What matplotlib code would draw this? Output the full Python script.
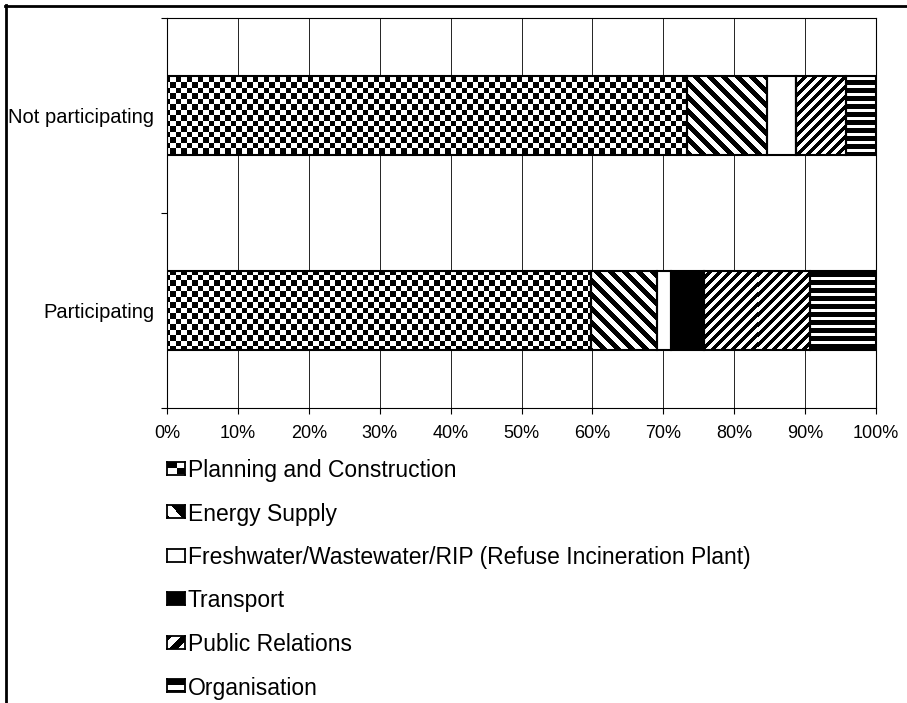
import numpy as np
import matplotlib
matplotlib.use('Agg')
import matplotlib.pyplot as plt
from matplotlib.lines import Line2D

plt.rcParams['font.family'] = ['Liberation Sans', 'DejaVu Sans']

# shares of each field of activity, in percent
categories = ['Participating', 'Not participating']
groups = ['Planning and Construction', 'Energy Supply',
          'Freshwater/Wastewater/RIP (Refuse Incineration Plant)',
          'Transport', 'Public Relations', 'Organisation']
planning = [59.8, 73.3]
energy = [9.3, 11.3]
freshwater = [2.0, 4.1]
transport = [4.6, 0.0]
public_relations = [15.0, 7.1]
organisation = [9.3, 4.2]
xticks = [0, 10, 20, 30, 40, 50, 60, 70, 80, 90, 100]
xtick_labels = [f'{t}%' for t in xticks]

W, H, DPI = 907, 703, 100


# fill patterns in screen pixels (y pointing down); 1 = white, 0 = black
def checker(x, y, s=1.0):
    return (np.floor(x / (5.5 * s)) + np.floor(y / (5.5 * s))) % 2

def back_diag(x, y, s=1.0):
    return ((x - y) % (14 * s) >= 7 * s).astype(float)

def fwd_diag(x, y, s=1.0):
    return ((x + y) % (10 * s) >= 5 * s).astype(float)

def blank(x, y, s=1.0):
    return np.ones_like(x + y)

def solid(x, y, s=1.0):
    return np.zeros_like(x + y)

def horiz(x, y, s=1.0):
    return ((y + 0 * x) % (8 * s) >= 5 * s).astype(float)

patterns = [checker, back_diag, blank, solid, fwd_diag, horiz]
series = [planning, energy, freshwater, transport, public_relations, organisation]

fig = plt.figure(figsize=(W / DPI, H / DPI), dpi=DPI)
ax = fig.add_axes([167 / W, 1 - 408 / H, (876 - 167) / W, (408 - 18) / H])

ypos = np.arange(len(categories))
left = np.zeros(len(categories))
bar_sets = []
for vals in series:
    bars = ax.barh(ypos, vals, left=left, height=0.41, facecolor='none',
                   edgecolor='black', linewidth=1.5, zorder=3)
    bar_sets.append(bars)
    left = left + np.array(vals)

ax.set_xlim(0, 100)
ax.set_ylim(-0.5, 1.5)

# paint each segment with its pattern, clipped to the bar outline
inv = ax.transData.inverted()
for bars, pat in zip(bar_sets, patterns):
    for p in bars:
        if p.get_width() <= 0:
            continue
        bb = p.get_window_extent()
        x0, x1 = int(np.floor(bb.x0)), int(np.ceil(bb.x1))
        y0, y1 = int(np.floor(bb.y0)), int(np.ceil(bb.y1))
        xs = x0 + np.arange(x1 - x0) + 0.5
        ys = (H - y1) + np.arange(y1 - y0) + 0.5
        X, Y = np.meshgrid(xs, ys)
        img = pat(X, Y)
        (dx0, dy0), (dx1, dy1) = inv.transform([(x0, y0), (x1, y1)])
        ax.imshow(img, cmap='gray', vmin=0, vmax=1, extent=(dx0, dx1, dy0, dy1),
                  origin='upper', interpolation='nearest', aspect='auto',
                  clip_path=p, zorder=2)

ax.set_xlim(0, 100)
ax.set_ylim(-0.5, 1.5)

ax.set_xticks(xticks)
ax.set_xticklabels(xtick_labels, fontsize=13)
ax.tick_params(axis='x', length=4, width=0.8, pad=8)
ax.set_yticks([-0.5, 0.5, 1.5])
ax.set_yticklabels([])
ax.tick_params(axis='y', which='major', length=4, width=0.8)
ax.set_yticks(ypos, minor=True)
ax.set_yticklabels(categories, minor=True, fontsize=14.5)
ax.tick_params(axis='y', which='minor', length=0, pad=9)

ax.grid(axis='x', color='black', linewidth=0.6)
ax.set_axisbelow(True)
for sp in ax.spines.values():
    sp.set_linewidth(0.8)
    sp.set_color('black')

# legend stacked below the plot
row0, step = 468, 43.5
for i, (name, pat) in enumerate(zip(groups, patterns)):
    cy = row0 + i * step
    kax = fig.add_axes([167 / W, 1 - (cy + 6.5) / H, 18 / W, 13 / H])
    X, Y = np.meshgrid(np.arange(18) + 0.5, np.arange(13) + 0.5 + 3)
    kax.imshow(pat(X, Y, 1.8), cmap='gray', vmin=0, vmax=1,
               interpolation='nearest', aspect='auto')
    kax.set_xticks([])
    kax.set_yticks([])
    for sp in kax.spines.values():
        sp.set_linewidth(1.3)
    fig.text(188 / W, 1 - cy / H, name, fontsize=16.5, ha='left',
             va='center_baseline')

# outer frame (top and left edges)
fig.add_artist(Line2D([6 / W, 6 / W], [0, 1 - 5 / H], transform=fig.transFigure,
                      color='black', linewidth=2))
fig.add_artist(Line2D([5 / W, 1], [1 - 6 / H, 1 - 6 / H], transform=fig.transFigure,
                      color='black', linewidth=2))

fig.savefig('out.png', dpi=DPI)
